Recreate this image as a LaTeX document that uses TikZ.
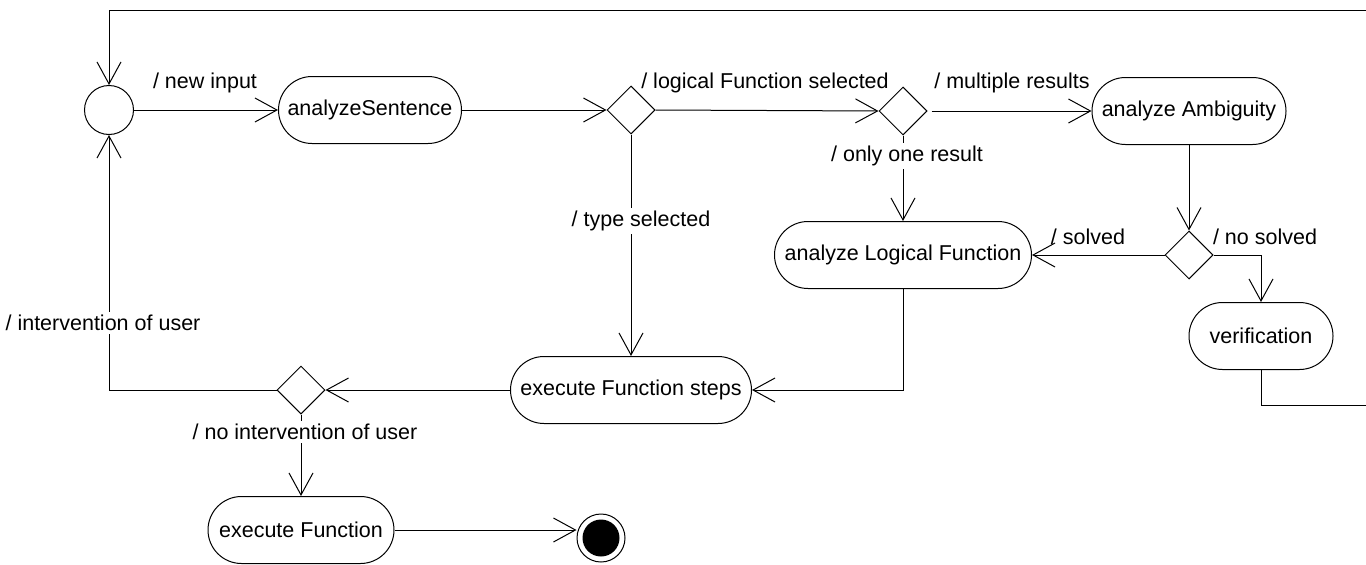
\documentclass[tikz,border=0pt]{standalone}
\usepackage{fontspec}
\setmainfont{Liberation Sans}
\usetikzlibrary{shapes.geometric,shapes.misc,arrows.meta}

\begin{document}
\begin{tikzpicture}[x=1pt,y=-1pt,
  every node/.style={font=\fontsize{21.5}{25}\selectfont},
  activity/.style={rounded rectangle, draw, line width=1pt, minimum height=67pt, inner sep=0pt},
  choice/.style={diamond, draw, line width=1pt, minimum width=48pt, minimum height=48pt, inner sep=0pt, aspect=1},
  junction/.style={circle, draw, line width=1pt, minimum size=49pt, inner sep=0pt},
  flow/.style={line width=1pt, -{Straight Barb[length=22pt,width=24pt,line width=1pt]}},
  plain/.style={line width=1pt},
  guard/.style={inner sep=2pt},
  cut/.style={fill=white, inner sep=3pt}
]
\useasboundingbox (0,0) rectangle (1366,565);

% states and decisions
\node[junction] (init) at (109,110) {};
\node[activity, minimum width=183pt] (as) at (370,110) {analyzeSentence};
\node[choice] (d1) at (631,110) {};
\node[choice] (d2) at (903,111) {};
\node[activity, minimum width=194pt] (aa) at (1189,111) {analyze Ambiguity};
\node[choice] (d3) at (1189,255) {};
\node[activity, minimum width=257pt] (alf) at (903,255) {analyze Logical Function};
\node[activity, minimum width=144pt] (ver) at (1261,336) {verification};
\node[activity, minimum width=241pt] (efs) at (631,390) {execute Function steps};
\node[choice] (d4) at (301,390) {};
\node[activity, minimum width=186pt] (ef) at (301,530) {execute Function};
\node[circle, draw, line width=1pt, minimum size=48pt, inner sep=0pt] (fin) at (601,538) {};
\fill (fin.center) circle (18.5);

% loop back from verification round the outside
\coordinate (cbr) at (1369,405);
\coordinate (ctr) at (1369,10);

% transitions
\draw[flow] (init.east) -- (as.west);
\draw[flow] (as.east) -- (d1.west);
\draw[flow] (d1.east) -- (d2.west);
\draw[flow, shorten <=4pt] (d2.east) -- (aa.west);
\draw[flow] (d2.south) -- (alf.north);
\draw[flow] (d1.south) -- (efs.north);
\draw[flow] (aa.south) -- (d3.north);
\draw[flow] (d3.west) -- (alf.east);
\draw[flow] (d3.east) -| (ver.north);
\draw[flow] (ver.south) |- (cbr) -- (ctr) -| (init.north);
\draw[flow] (alf.south) |- (efs.east);
\draw[flow] (efs.west) -- (d4.east);
\draw[flow] (d4.west) -| (init.south);
\draw[flow] (d4.south) -- (ef.north);
\draw[flow] (ef.east) -- (ef.east -| fin.west);

% guards
\node[guard] (gnew) at (205,83) {/ new input};
\node[guard] (glog) at (765,83) {/ logical Function selected};
\node[guard] (gmul) at (1012,83) {/ multiple results};
\node[cut] (gone) at (907,156) {/ only one result};
\node[cut] (gtype) at (641,221) {/ type selected};
\node[guard] (gsol) at (1088,237) {/ solved};
\node[guard] (gnos) at (1265,237) {/ no solved};
\node[cut] (gint) at (103,323) {/ intervention of user};
\node[cut] (gnoint) at (305,432) {/ no intervention of user};
\end{tikzpicture}
\end{document}
